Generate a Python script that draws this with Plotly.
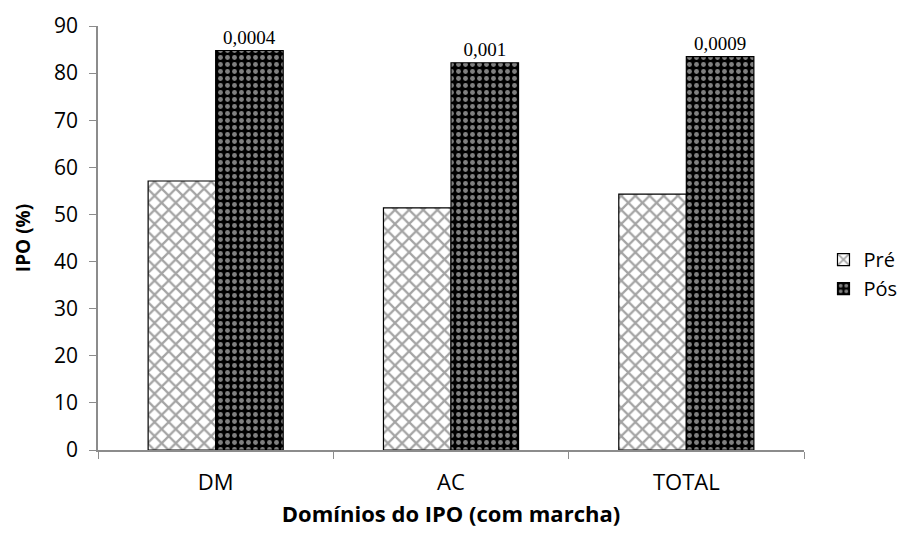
import plotly.graph_objects as go

categories = ["DM", "AC", "TOTAL"]
pre_values = [57.1, 51.4, 54.3]
pos_values = [84.8, 82.2, 83.5]
p_values = ["0,0004", "0,001", "0,0009"]
y_ticks = [0, 10, 20, 30, 40, 50, 60, 70, 80, 90]

fig = go.Figure()
fig.add_trace(go.Bar(
    x=categories, y=pre_values, name="Pré",
    marker=dict(color="white", line=dict(color="black", width=1.2),
                pattern=dict(shape="x", fgcolor="#4a4a4a", bgcolor="white", size=10, solidity=0.4)),
))
fig.add_trace(go.Bar(
    x=categories, y=pos_values, name="Pós",
    text=p_values, textposition="outside", cliponaxis=False,
    textfont=dict(family="Liberation Serif", size=19, color="black"),
    marker=dict(color="black", line=dict(color="black", width=1.2),
                pattern=dict(shape=".", fgcolor="white", bgcolor="black", size=7, solidity=0.38)),
))

# page body has an 8px default margin; the figure is sized to compensate
fig.update_layout(
    width=891, height=520,
    margin=dict(l=90, r=95, t=18, b=78, autoexpand=False),
    plot_bgcolor="white", paper_bgcolor="white",
    barmode="group", bargap=0.426, bargroupgap=0,
    font=dict(family="Open Sans", color="black"),
    legend=dict(x=1.1395, y=0.415, yanchor="middle", xanchor="right",
                font=dict(size=20, family="Open Sans")),
    xaxis=dict(
        showline=True, linecolor="#8c8c8c", linewidth=1.5,
        ticks="outside", ticklen=7, tickcolor="#8c8c8c", tickson="boundaries",
        tickfont=dict(size=22), ticklabelstandoff=12,
        title=dict(text="<b>Domínios do IPO (com marcha)</b>", font=dict(size=22), standoff=16),
    ),
    yaxis=dict(
        range=[0, 90], tickvals=y_ticks,
        showline=True, linecolor="#8c8c8c", linewidth=1.5,
        ticks="outside", ticklen=7, tickcolor="#8c8c8c",
        showgrid=False, zeroline=False,
        tickfont=dict(size=21), ticklabelstandoff=7,
        title=dict(text="<b>IPO (%)</b>", font=dict(size=19), standoff=18),
    ),
)

fig.write_html("out.html")
